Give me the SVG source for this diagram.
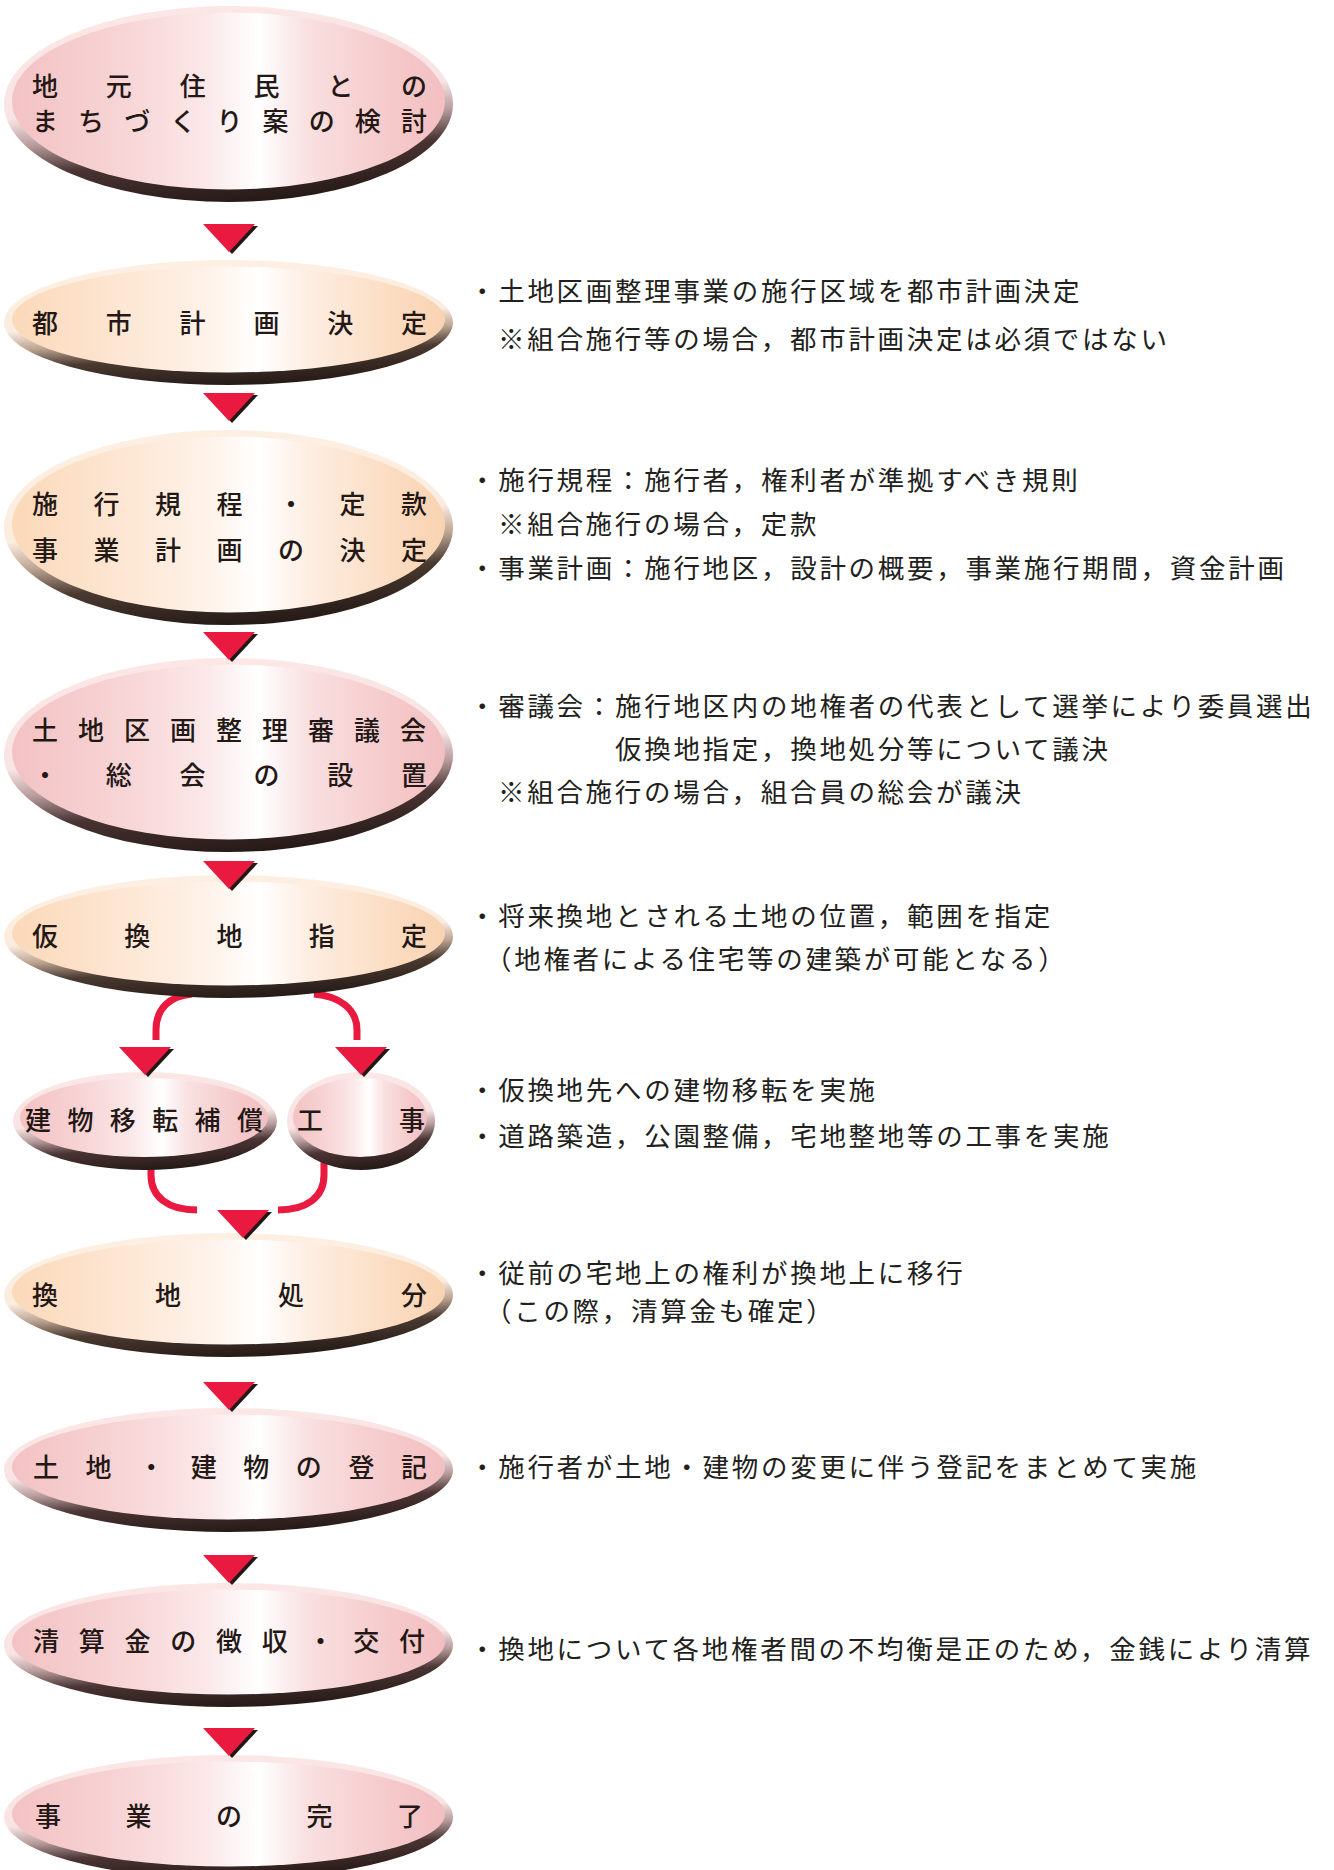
<svg xmlns="http://www.w3.org/2000/svg" xmlns:xlink="http://www.w3.org/1999/xlink" width="1334" height="1870" viewBox="0 0 1334 1870">
<style>
  .nt { font-family: "Noto Sans CJK JP", "Noto Sans CJK SC", sans-serif; font-size: 26px; fill: #231815; font-weight: 500; }
  .rt { font-family: "Noto Sans CJK JP", "Noto Sans CJK SC", sans-serif; font-size: 26.5px; fill: #231f20; letter-spacing: 2.7px; }
  .line { fill: none; stroke: #e9193f; stroke-width: 7; }
  .pink .rim { fill: url(#rimPink); }
  .pink .face { fill: url(#facePink); }
  .peach .rim { fill: url(#rimPeach); }
  .peach .face { fill: url(#facePeach); }
</style>
<defs>
  <linearGradient id="rimPink" x1="0.4" y1="0" x2="0.6" y2="1">
    <stop offset="0" stop-color="#fce6e6"/>
    <stop offset="0.48" stop-color="#f8e4e4"/>
    <stop offset="0.62" stop-color="#b89c9c"/>
    <stop offset="0.76" stop-color="#4a3434"/>
    <stop offset="1" stop-color="#231815"/>
  </linearGradient>
  <linearGradient id="rimPeach" x1="0.4" y1="0" x2="0.6" y2="1">
    <stop offset="0" stop-color="#fdf0e2"/>
    <stop offset="0.48" stop-color="#fbece0"/>
    <stop offset="0.62" stop-color="#bca492"/>
    <stop offset="0.76" stop-color="#4a3a30"/>
    <stop offset="1" stop-color="#231815"/>
  </linearGradient>
  <linearGradient id="facePink" x1="0" y1="0" x2="1" y2="0">
    <stop offset="0" stop-color="#f3c2c4"/>
    <stop offset="0.25" stop-color="#f7d4d5"/>
    <stop offset="0.45" stop-color="#fbe8e9"/>
    <stop offset="0.57" stop-color="#ffffff"/>
    <stop offset="0.68" stop-color="#f9e0e1"/>
    <stop offset="0.88" stop-color="#f5c9ca"/>
    <stop offset="1" stop-color="#f3bfc1"/>
  </linearGradient>
  <linearGradient id="facePeach" x1="0" y1="0" x2="1" y2="0">
    <stop offset="0" stop-color="#fbd9b9"/>
    <stop offset="0.25" stop-color="#fde6d3"/>
    <stop offset="0.45" stop-color="#fef2e9"/>
    <stop offset="0.57" stop-color="#ffffff"/>
    <stop offset="0.68" stop-color="#fdeee3"/>
    <stop offset="0.88" stop-color="#fbdcc1"/>
    <stop offset="1" stop-color="#f9d3b1"/>
  </linearGradient>
  <g id="arrow">
    <polygon points="-26,0 26,0 0,28" fill="#231815" transform="translate(3,2)"/>
    <polygon points="-26,0 26,0 0,28" fill="#e9193f"/>
  </g>
</defs>

<g id="connector-lines">
  <path class="line" d="M 192 994 C 170 996 156 1008 156 1030 L 156 1040"/>
  <path class="line" d="M 314 994 C 338 996 357 1008 357 1030 L 357 1040"/>
  <path class="line" d="M 151 1160 L 151 1175 C 151 1197 168 1210 197 1210"/>
  <path class="line" d="M 324 1160 L 324 1175 C 324 1197 307 1210 278 1210"/>
</g>

<g id="n1" class="node pink">
  <ellipse class="rim" cx="228.5" cy="104" rx="224.5" ry="98"/>
  <ellipse class="face" cx="228.5" cy="101" rx="216.5" ry="88.5"/>
  <text class="nt" x="32" y="96" textLength="395" lengthAdjust="spacing">地元住民との</text>
  <text class="nt" x="32" y="131" textLength="395" lengthAdjust="spacing">まちづくり案の検討</text>
</g>
<g id="n2" class="node peach">
  <ellipse class="rim" cx="228.5" cy="322.5" rx="224.5" ry="62.5"/>
  <ellipse class="face" cx="228.5" cy="319.5" rx="216.5" ry="53"/>
  <text class="nt" x="32" y="333" textLength="395" lengthAdjust="spacing">都市計画決定</text>
</g>
<g id="n3" class="node peach">
  <ellipse class="rim" cx="228.5" cy="527.5" rx="224.5" ry="97.5"/>
  <ellipse class="face" cx="228.5" cy="524.5" rx="216.5" ry="88"/>
  <text class="nt" x="32" y="514" textLength="395" lengthAdjust="spacing">施行規程・定款</text>
  <text class="nt" x="32" y="560" textLength="395" lengthAdjust="spacing">事業計画の決定</text>
</g>
<g id="n4" class="node pink">
  <ellipse class="rim" cx="228.5" cy="755" rx="224.5" ry="97"/>
  <ellipse class="face" cx="228.5" cy="752" rx="216.5" ry="87.5"/>
  <text class="nt" x="32" y="740" textLength="394" lengthAdjust="spacing">土地区画整理審議会</text>
  <text class="nt" x="32" y="785" textLength="395" lengthAdjust="spacing">・総会の設置</text>
</g>
<g id="n5" class="node peach">
  <ellipse class="rim" cx="228.5" cy="936.5" rx="224.5" ry="61.5"/>
  <ellipse class="face" cx="228.5" cy="933.5" rx="216.5" ry="52"/>
  <text class="nt" x="32" y="946" textLength="395" lengthAdjust="spacing">仮換地指定</text>
</g>
<g id="n6" class="node pink">
  <ellipse class="rim" cx="145" cy="1121" rx="132" ry="49"/>
  <ellipse class="face" cx="144" cy="1117.5" rx="124" ry="39.5"/>
  <text class="nt" x="25" y="1130" textLength="238" lengthAdjust="spacing">建物移転補償</text>
</g>
<g id="n7" class="node pink">
  <ellipse class="rim" cx="361" cy="1121" rx="74" ry="49"/>
  <ellipse class="face" cx="360" cy="1117.5" rx="67" ry="39.5"/>
  <text class="nt" x="297" y="1130" textLength="128" lengthAdjust="spacing">工事</text>
</g>
<g id="n8" class="node peach">
  <ellipse class="rim" cx="228.5" cy="1295" rx="224.5" ry="62"/>
  <ellipse class="face" cx="228.5" cy="1292" rx="216.5" ry="52.5"/>
  <text class="nt" x="32" y="1305" textLength="395" lengthAdjust="spacing">換地処分</text>
</g>
<g id="n9" class="node pink">
  <ellipse class="rim" cx="228.5" cy="1470" rx="224.5" ry="62"/>
  <ellipse class="face" cx="228.5" cy="1467" rx="216.5" ry="52.5"/>
  <text class="nt" x="33" y="1477" textLength="394" lengthAdjust="spacing">土地・建物の登記</text>
</g>
<g id="n10" class="node pink">
  <ellipse class="rim" cx="228.5" cy="1645" rx="224.5" ry="62"/>
  <ellipse class="face" cx="228.5" cy="1642" rx="216.5" ry="52.5"/>
  <text class="nt" x="33" y="1651" textLength="392" lengthAdjust="spacing">清算金の徴収・交付</text>
</g>
<g id="n11" class="node pink">
  <ellipse class="rim" cx="228.5" cy="1817" rx="224.5" ry="62"/>
  <ellipse class="face" cx="228.5" cy="1814" rx="216.5" ry="52.5"/>
  <text class="nt" x="35" y="1826" textLength="388" lengthAdjust="spacing">事業の完了</text>
</g>

<g id="connectors">
  <use xlink:href="#arrow" x="229" y="224"/>
  <use xlink:href="#arrow" x="229" y="393"/>
  <use xlink:href="#arrow" x="229" y="632"/>
  <use xlink:href="#arrow" x="229" y="861"/>
  <use xlink:href="#arrow" x="145" y="1047"/>
  <use xlink:href="#arrow" x="361" y="1047"/>
  <use xlink:href="#arrow" x="243" y="1210"/>
  <use xlink:href="#arrow" x="229" y="1382"/>
  <use xlink:href="#arrow" x="229" y="1555"/>
  <use xlink:href="#arrow" x="229" y="1728"/>
</g>

<g id="notes">
  <text class="rt" x="469" y="301">・土地区画整理事業の施行区域を都市計画決定</text>
  <text class="rt" x="498" y="349">※組合施行等の場合，都市計画決定は必須ではない</text>
  <text class="rt" x="469" y="490">・施行規程：施行者，権利者が準拠すべき規則</text>
  <text class="rt" x="498" y="534">※組合施行の場合，定款</text>
  <text class="rt" x="469" y="578">・事業計画：施行地区，設計の概要，事業施行期間，資金計画</text>
  <text class="rt" x="469" y="716">・審議会：施行地区内の地権者の代表として選挙により委員選出</text>
  <text class="rt" x="615" y="759">仮換地指定，換地処分等について議決</text>
  <text class="rt" x="498" y="802">※組合施行の場合，組合員の総会が議決</text>
  <text class="rt" x="469" y="926">・将来換地とされる土地の位置，範囲を指定</text>
  <text class="rt" x="485" y="969">（地権者による住宅等の建築が可能となる）</text>
  <text class="rt" x="469" y="1100">・仮換地先への建物移転を実施</text>
  <text class="rt" x="469" y="1146">・道路築造，公園整備，宅地整地等の工事を実施</text>
  <text class="rt" x="469" y="1283">・従前の宅地上の権利が換地上に移行</text>
  <text class="rt" x="485" y="1321">（この際，清算金も確定）</text>
  <text class="rt" x="469" y="1477">・施行者が土地・建物の変更に伴う登記をまとめて実施</text>
  <text class="rt" x="469" y="1659">・換地について各地権者間の不均衡是正のため，金銭により清算</text>
</g>
</svg>
